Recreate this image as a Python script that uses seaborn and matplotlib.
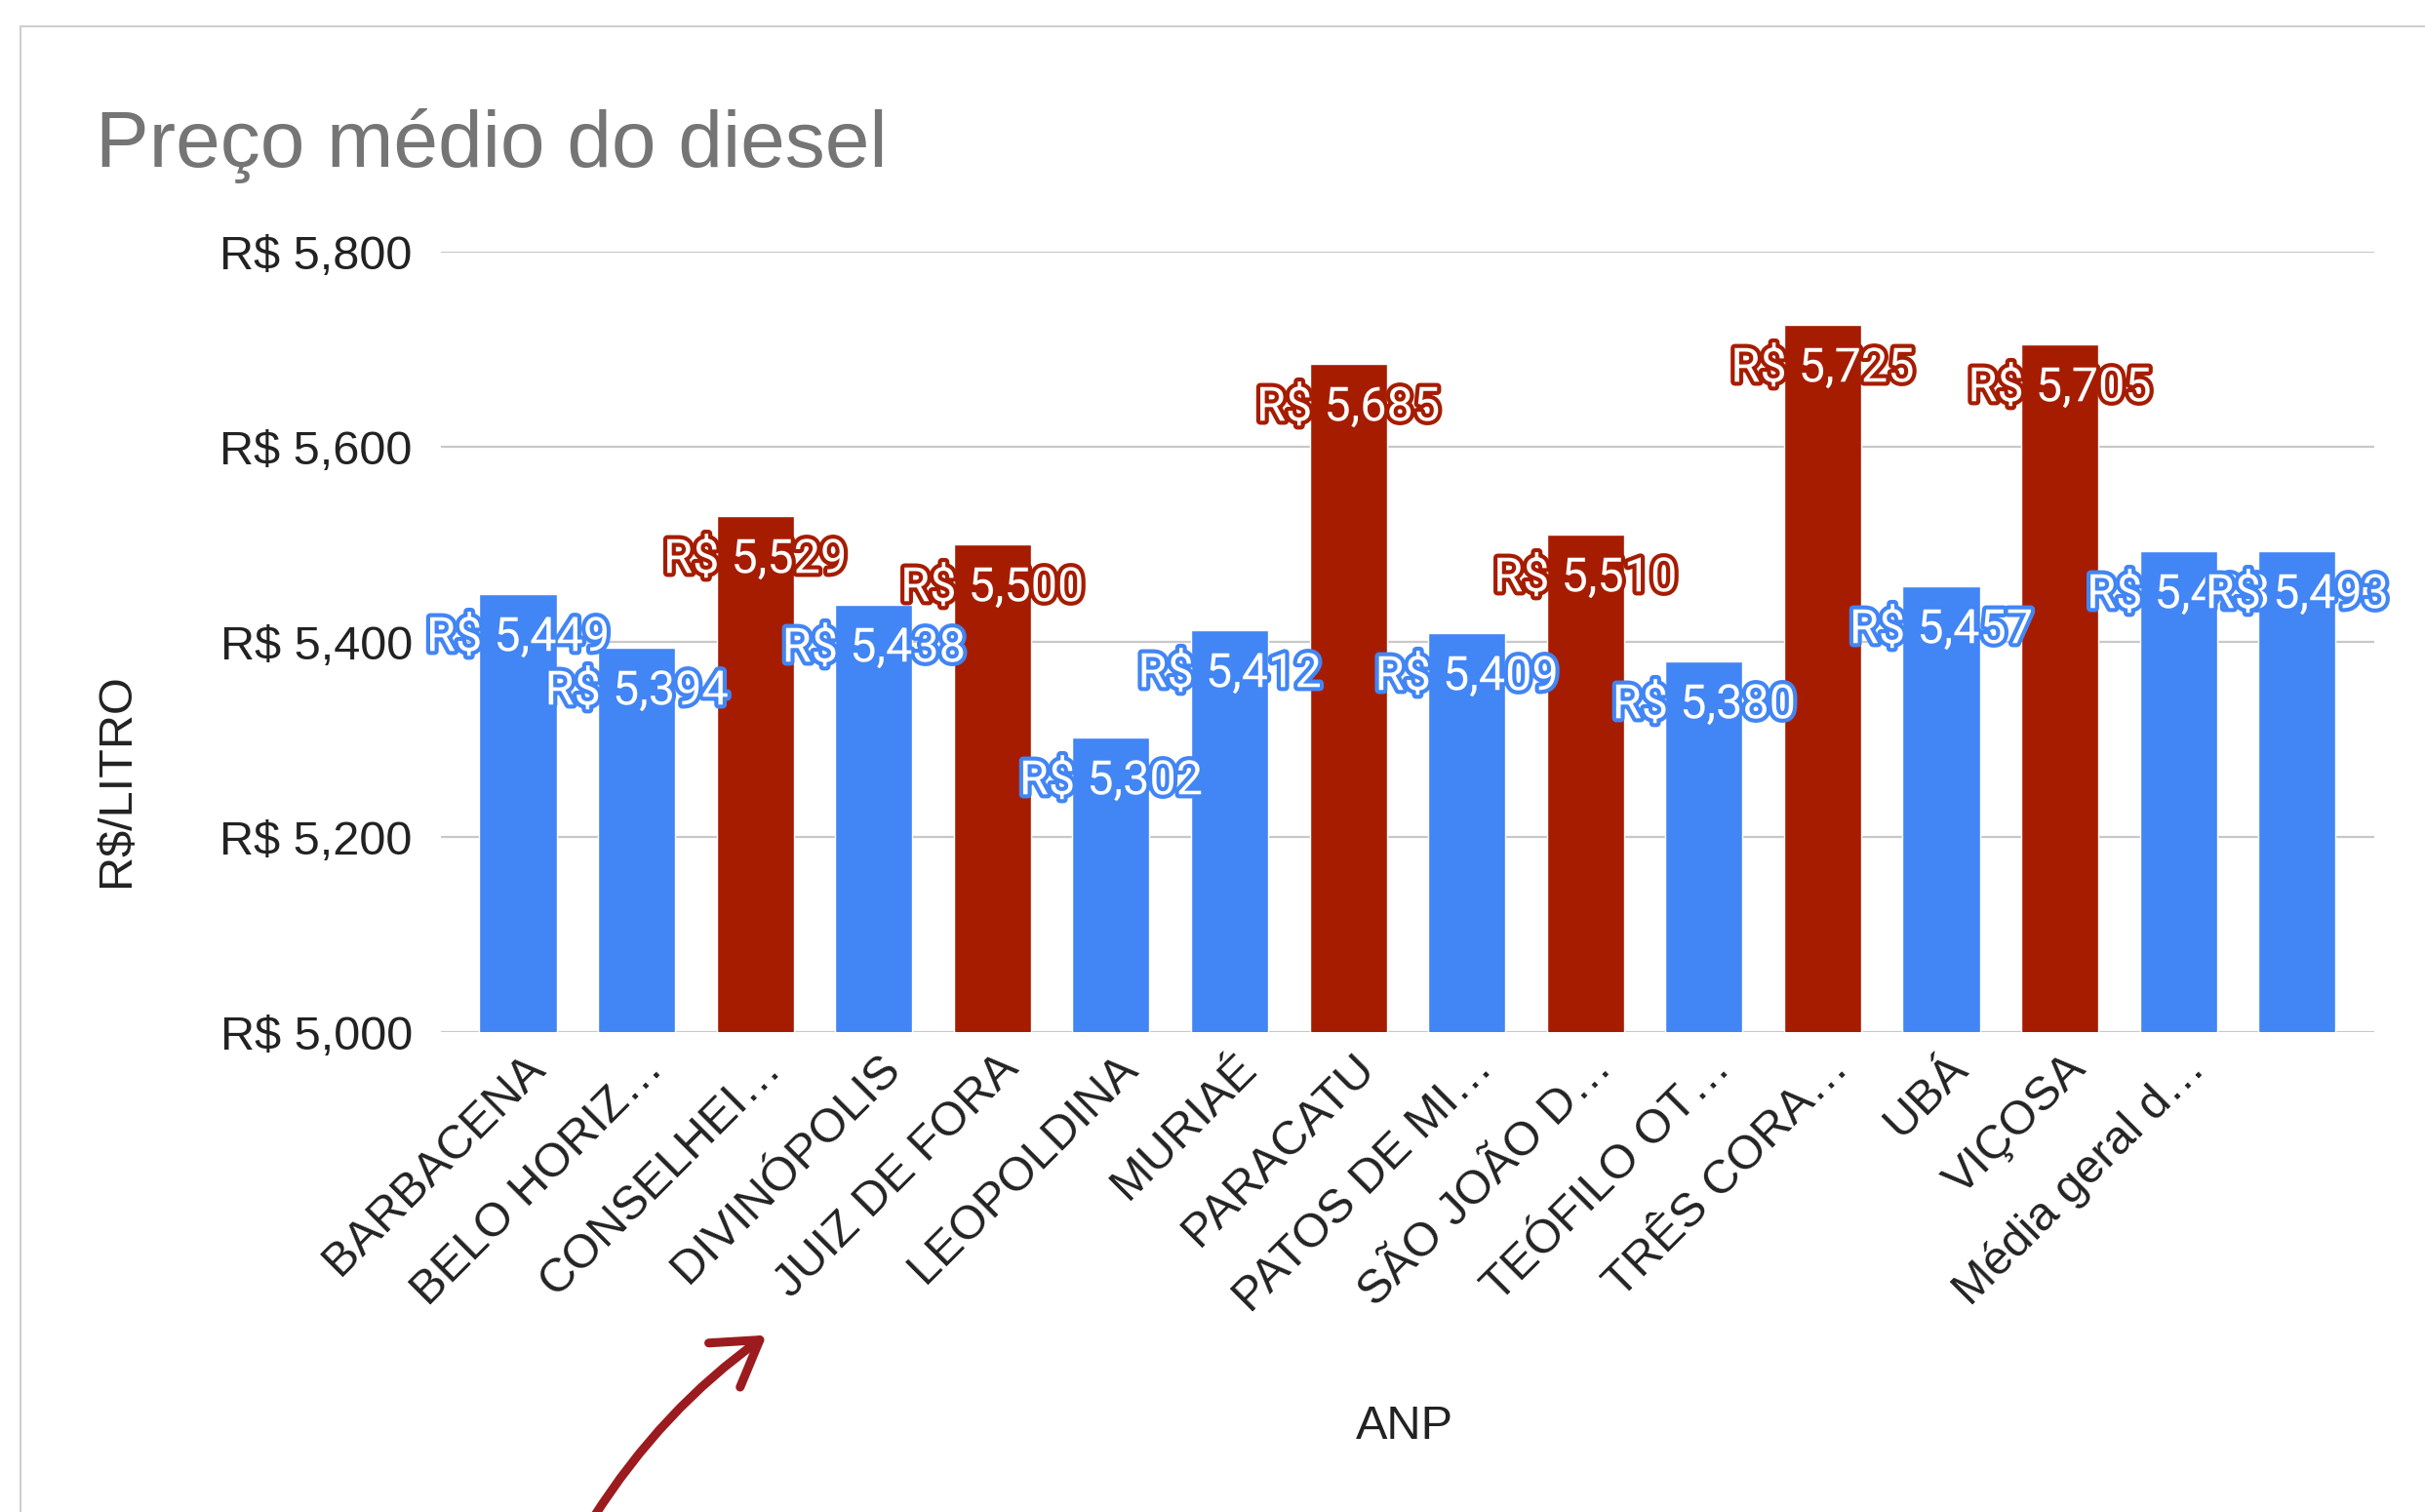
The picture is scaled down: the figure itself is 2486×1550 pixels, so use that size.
import matplotlib
matplotlib.use("Agg")
import matplotlib.pyplot as plt
import matplotlib.patheffects as pe
from matplotlib.patches import Rectangle, FancyArrowPatch
from matplotlib.transforms import ScaledTranslation
from matplotlib.ticker import FuncFormatter
import seaborn as sns

# dados (R$/litro)
cidades = [
    "BARBACENA", "BELO HORIZ…", "CONSELHEI…", "DIVINÓPOLIS", "JUIZ DE FORA",
    "LEOPOLDINA", "MURIAÉ", "PARACATU", "PATOS DE MI…", "SÃO JOÃO D…",
    "TEÓFILO OT…", "TRÊS CORA…", "UBÁ", "VIÇOSA", "Média geral d…", "",
]
precos = [
    5.449, 5.394, 5.529, 5.438, 5.500, 5.302, 5.412, 5.685,
    5.409, 5.510, 5.380, 5.725, 5.457, 5.705, 5.493, 5.493,
]
acima_media = [
    False, False, True, False, True, False, False, True,
    False, True, False, True, False, True, False, False,
]
y_ticks = [5.0, 5.2, 5.4, 5.6, 5.8]

AZUL = "#4285F4"
VERMELHO = "#A61C00"
cores = [VERMELHO if a else AZUL for a in acima_media]


def fmt_real(v, pos=None):
    return f"R$ {v:.3f}".replace(".", ",")


sns.set_theme(style="white")
plt.rcParams["font.family"] = ["Liberation Sans", "DejaVu Sans"]

fig = plt.figure(figsize=(24.86, 15.5), dpi=100)
ax = fig.add_axes([0.1818, 0.3174, 0.7972, 0.5161])

sns.barplot(
    x=cidades, y=precos, hue=cidades, palette=cores, legend=False,
    width=0.65, saturation=1, ax=ax, zorder=3,
)

ax.set_ylim(5.0, 5.8)
ax.set_xlim(-0.65, len(cidades) - 0.35)
ax.set_yticks(y_ticks)
ax.yaxis.set_major_formatter(FuncFormatter(fmt_real))
ax.grid(axis="y", color="#C8C8C8", linewidth=1.6, zorder=0)
ax.grid(axis="x", visible=False)
for s in ax.spines.values():
    s.set_visible(False)
ax.tick_params(axis="y", length=0, pad=21, labelsize=35, labelcolor="#222222")
ax.tick_params(axis="x", length=0, pad=13, labelsize=35, labelcolor="#222222")

for lbl in ax.get_xticklabels():
    lbl.set_rotation(45)
    lbl.set_ha("right")
    lbl.set_va("center")
    lbl.set_rotation_mode("anchor")
    lbl.set_transform(lbl.get_transform() + ScaledTranslation(0.2, -0.12, fig.dpi_scale_trans))

ax.set_xlabel("ANP", fontsize=35, color="#222222")
ax.xaxis.label.set_va("center")
ax.xaxis.set_label_coords(0.4985, -0.505)
ax.set_ylabel("R$/LITRO", fontsize=35, color="#222222")
ax.yaxis.label.set_va("center")
ax.yaxis.set_label_coords(-0.168, 0.3225)

# rótulos de dados
for i, (v, c) in enumerate(zip(precos, cores)):
    ax.annotate(
        fmt_real(v), xy=(i, v), xytext=(0, -32), textcoords="offset points",
        ha="center", va="center", fontsize=35, family="Roboto", color="white",
        zorder=5,
        path_effects=[pe.Stroke(linewidth=6, foreground=c), pe.Normal()],
    )

fig.text(0.0394, 0.8897, "Preço médio do diesel", fontsize=59, color="#757575",
         ha="left", va="baseline")

# moldura do gráfico
fig.add_artist(Rectangle((0.00845, -0.05), 1.2, 0.9826 + 0.05, transform=fig.transFigure,
                         fill=False, edgecolor="#CFCFCF", linewidth=1.5))

# seta de destaque
fig.add_artist(FancyArrowPatch(
    (0.2442, -0.005), (0.3170, 0.1180), transform=fig.transFigure,
    connectionstyle="arc3,rad=-0.1", arrowstyle="->,head_length=1.6,head_width=1.0",
    color="#9B1B1F", linewidth=6.5, mutation_scale=20,
))

fig.savefig("out.png", dpi=100)
